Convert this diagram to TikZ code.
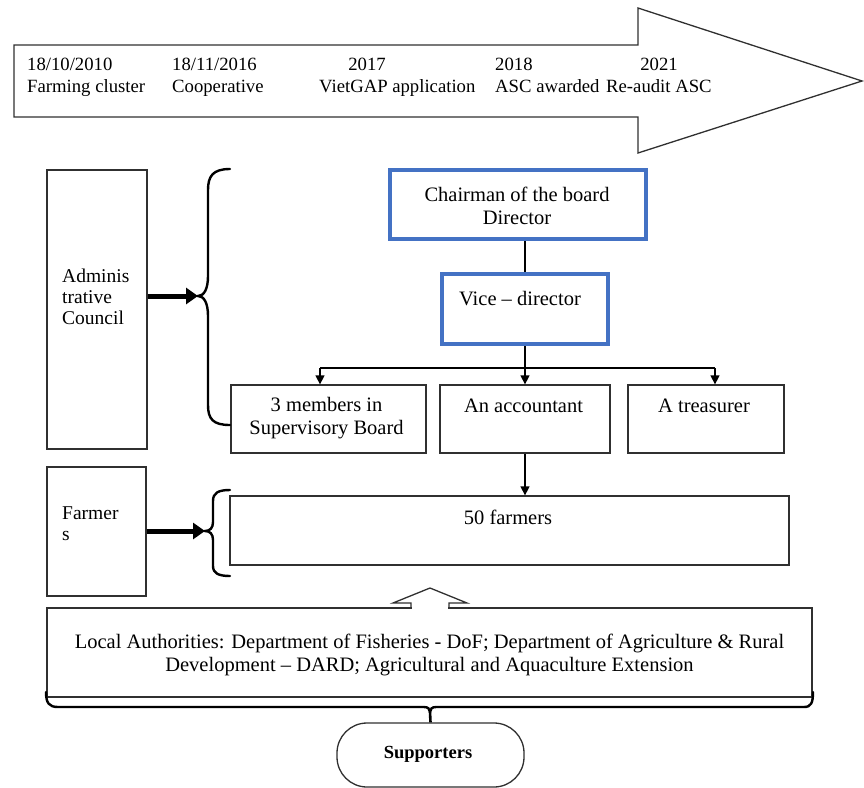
\documentclass[tikz,border=0pt]{standalone}
\usepackage{fontspec}
\setmainfont{Liberation Serif}
\usetikzlibrary{arrows.meta}
\definecolor{boxblue}{HTML}{4472C4}
\definecolor{linegray}{HTML}{303030}
\begin{document}
\begin{tikzpicture}[x=1pt,y=-1pt,
  box/.style={draw=linegray, line width=1.3pt, inner sep=0pt},
  bluebox/.style={draw=boxblue, line width=4.5pt, inner sep=0pt},
  txt/.style={font=\fontsize{20.5}{23}\selectfont, inner sep=0pt, align=center},
  ttxt/.style={font=\fontsize{18.7}{22}\selectfont, inner sep=0pt},
  ltxt/.style={font=\fontsize{19.5}{21}\selectfont, inner sep=0pt, align=left},
  thinarrow/.style={draw=black, line width=1.4pt, -{Triangle[length=9pt,width=9pt]}},
  fatarrow/.style={draw=black, line width=5pt, -{Triangle[length=12pt,width=16pt]}},
  bracepath/.style={draw=black, line width=2.4pt, line cap=round}
]
\useasboundingbox (0,0) rectangle (864,787);

% timeline arrow
\draw[linegray, line width=1.3pt, line join=miter] (14,45) -- (638,45) -- (638,8) -- (862,81) -- (638,153) -- (638,117) -- (14,117) -- cycle;
\node[ttxt, anchor=base west] (y1) at (27,70) {18/10/2010};
\node[ttxt, anchor=base west] (e1) at (27,92) {Farming cluster};
\node[ttxt, anchor=base west] (y2) at (172,70) {18/11/2016};
\node[ttxt, anchor=base west] (e2) at (172,92) {Cooperative};
\node[ttxt, anchor=base] (y3) at (367,70) {2017};
\node[ttxt, anchor=base west] (e3) at (319,92) {VietGAP application};
\node[ttxt, anchor=base west] (y4) at (495,70) {2018};
\node[ttxt, anchor=base west] (e4) at (495,92) {ASC awarded};
\node[ttxt, anchor=base] (y5) at (659,70) {2021};
\node[ttxt, anchor=base west] (e5) at (606,92) {Re-audit ASC};

% left label boxes
\node[box, minimum width=100pt, minimum height=279pt] (admin) at (97,309.5) {};
\node[ltxt, anchor=base west] (admintxt) at (62,324) {Adminis\\trative\\Council};
\node[box, minimum width=99pt, minimum height=129pt] (flab) at (96.5,531.5) {};
\node[ltxt, anchor=base west] (flabtxt) at (62,540) {Farmer\\s};

% org boxes
\node[bluebox, minimum width=256pt, minimum height=69pt] (chair) at (518,204.5) {};
\node[txt, anchor=base] (chairtxt) at (517,224) {Chairman of the board\\Director};
\node[bluebox, minimum width=166pt, minimum height=70pt] (vice) at (525,309) {};
\node[txt, anchor=base] (vicetxt) at (520,305) {Vice -- director};

\node[box, minimum width=195pt, minimum height=68pt] (sup) at (328.5,419) {};
\node[txt, anchor=base] (suptxt) at (326.5,434) {3 members in\\Supervisory Board};
\node[box, minimum width=170pt, minimum height=68pt] (acc) at (525,419) {};
\node[txt, anchor=base] (acctxt) at (523.5,412) {An accountant};
\node[box, minimum width=156pt, minimum height=68pt] (tre) at (706,419) {};
\node[txt, anchor=base] (tretxt) at (704,412) {A treasurer};

\node[box, minimum width=559pt, minimum height=69pt] (farm) at (509.5,530.5) {};
\node[txt, anchor=base] (farmtxt) at (508,524) {50 farmers};

\node[box, minimum width=765pt, minimum height=89pt] (local) at (429.5,652.5) {};
\node[txt, anchor=base] (localtxt) at (429.5,671) {Local Authorities: Department of Fisheries - DoF; Department of Agriculture \& Rural\\Development -- DARD; Agricultural and Aquaculture Extension};

\node[box, minimum width=187pt, minimum height=64pt, rounded corners=30pt] (supp) at (430.5,755) {};
\node[font=\bfseries\fontsize{18.5}{20}\selectfont, inner sep=0pt, anchor=base] (supptxt) at (428,758) {Supporters};

% connectors
\draw[draw=black, line width=2.8pt] (vice.north) -- (vice.north |- chair.south);
\coordinate (j1) at (320,368);
\coordinate (j2) at (715,368);
\draw[draw=black, line width=1.4pt] (j1) -- (j2);
\draw[thinarrow] (vice.south) -- (acc.north);
\draw[thinarrow] (j1) -- (j1 |- sup.north);
\draw[thinarrow] (j2) -- (j2 |- tre.north);
\draw[thinarrow] (acc.south) -- (acc.south |- farm.north);

% braces and thick arrows
\coordinate (bm1) at (198,296);
\draw[bracepath] (230,169) .. controls (213,169) and (208,176) .. (208,190) -- (208,276)
  .. controls (208,289) and (204,296) .. (bm1) .. controls (204,296) and (208,303) .. (208,316)
  -- (208,405) .. controls (208,419) and (213,425) .. (230,425);
\draw[fatarrow] (admin.east |- bm1) -- (bm1);

\coordinate (bm2) at (205,531);
\draw[bracepath] (230,490) .. controls (218,490) and (213,493) .. (213,501) -- (213,522)
  .. controls (213,528) and (210,531) .. (bm2) .. controls (210,531) and (213,534) .. (213,540)
  -- (213,566) .. controls (213,573) and (218,576) .. (230,576);
\draw[fatarrow] (flab.east |- bm2) -- (bm2);

% up block arrow on the local authorities box
\fill[white] (411.7,600) rectangle (448.3,610);
\draw[linegray, line width=1.3pt, line join=miter] (411,608.5) -- (411,603) -- (393,603) -- (430,588) -- (467,603) -- (449,603) -- (449,608.5);

% bottom brace and stem
\coordinate (bm3) at (430,712);
\draw[bracepath] (46,692) .. controls (46,703) and (49,707) .. (58,707) -- (424,707)
  .. controls (428,707) and (430,709) .. (bm3) .. controls (430,709) and (432,707) .. (436,707)
  -- (804,707) .. controls (811,707) and (813,703) .. (813,692);
\draw[draw=black, line width=2.6pt] (bm3) -- (supp.north);
\end{tikzpicture}
\end{document}
